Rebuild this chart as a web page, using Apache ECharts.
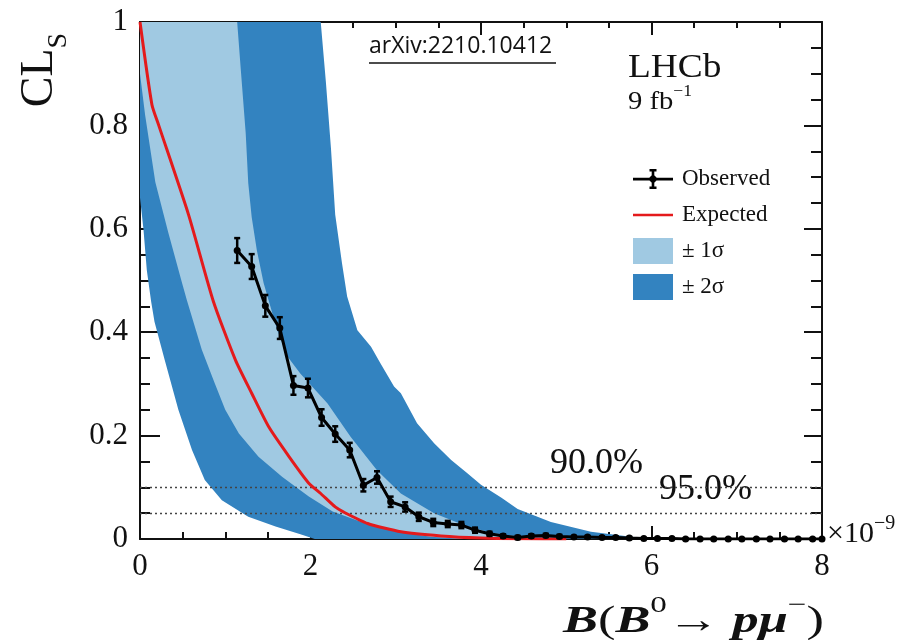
<!DOCTYPE html>
<html><head><meta charset="utf-8">
<script src="https://cdn.jsdelivr.net/npm/echarts@6/dist/echarts.min.js"></script>
<style>html,body{margin:0;padding:0;background:#fff}#c{width:916px;height:640px}</style>
</head><body><div id="c"></div>
<script>
// Observed CLs points (x in units of 1e-9)
const obsX = [1.14,1.31,1.47,1.64,1.80,1.97,2.13,2.29,2.46,2.62,2.78,2.94,3.11,3.27,3.44,3.61,3.77,3.93,4.10,4.26,4.43,4.59,4.76,4.92,5.09,5.25,5.42,5.58,5.74,5.91,6.07,6.24,6.40,6.57,6.73,6.90,7.06,7.23,7.39,7.56,7.72,7.89,8.0];
const obsY = [0.558,0.527,0.451,0.408,0.297,0.292,0.235,0.203,0.172,0.104,0.119,0.072,0.062,0.043,0.032,0.029,0.027,0.017,0.010,0.006,0.003,0.006,0.007,0.005,0.004,0.004,0.003,0.003,0.002,0.001,0.001,0.001,0.0,0.0,0.0,0.0,0.0,0.0,0.0,0.0,0.0,0.0,0.0];
const obsErr = [0.024,0.024,0.021,0.021,0.018,0.018,0.016,0.015,0.014,0.012,0.012,0.010,0.009,0.008,0.007,0.006,0.006,0.005,0.004,0.003,0.003,0.003,0.003,0.003,0.002,0.002,0.002,0.002,0.002,0.001,0.001,0.001,0.001,0.001,0.001,0.001,0.001,0.001,0.001,0.001,0.001,0.001,0.001];
// Expected median
const expX = [0,0.14,0.22,0.57,0.86,1.12,1.31,1.51,1.75,1.98,2.12,2.29,2.39,2.67,3.06,3.53,4.0,4.5,5.0];
const expY = [1.0,0.84,0.80,0.627,0.46,0.346,0.282,0.217,0.159,0.108,0.088,0.062,0.052,0.030,0.014,0.006,0.002,0.0005,0.0];
// +-2 sigma band boundaries
const band2LoX = [0,0,0.04,0.08,0.13,0.17,0.29,0.45,0.61,0.76,0.96,1.27,1.59,1.90,2.05];
const band2LoY = [1.0,0.66,0.60,0.52,0.46,0.42,0.346,0.25,0.172,0.114,0.075,0.043,0.024,0.008,0.0];
const band2HiX = [2.12,2.18,2.24,2.29,2.37,2.43,2.55,2.71,2.82,2.98,3.06,3.25,3.45,3.65,3.84,4.0,4.24,4.43,4.82,5.29,5.69,6.0];
const band2HiY = [1.0,0.885,0.756,0.627,0.533,0.469,0.404,0.372,0.34,0.295,0.282,0.224,0.185,0.153,0.127,0.105,0.08,0.058,0.033,0.014,0.006,0.0];
// +-1 sigma band boundaries
const band1LoX = [0,0,0.06,0.18,0.33,0.49,0.55,0.725,0.88,1.0,1.16,1.39,1.67,1.98,2.26,2.63,3.02,3.41,3.8];
const band1LoY = [1.0,0.9,0.82,0.69,0.594,0.497,0.462,0.366,0.30,0.25,0.204,0.159,0.12,0.082,0.053,0.031,0.014,0.0045,0.0];
const band1HiX = [1.14,1.18,1.24,1.27,1.31,1.37,1.45,1.61,1.73,1.88,2.2,2.47,2.78,3.06,3.45,3.84,4.15,4.6,5.0];
const band1HiY = [1.0,0.913,0.785,0.688,0.623,0.559,0.495,0.404,0.353,0.32,0.262,0.198,0.133,0.088,0.05,0.024,0.011,0.002,0.0];
const clLines = [0.1, 0.05];
const clLabels = ['90.0%', '95.0%'];
const xTicks = {min:0, max:8, step:2};

const SERIF = '"Liberation Serif","Times New Roman","DejaVu Serif",serif';
const LIGHT = '#a0c9e2', DARK = '#3383c0';

function bandPoly(loX, loY, hiX, hiY, color) {
  return function (params, api) {
    const pts = [];
    for (let i = 0; i < loX.length; i++) pts.push(api.coord([loX[i], loY[i]]));
    for (let i = hiX.length - 1; i >= 0; i--) pts.push(api.coord([hiX[i], hiY[i]]));
    return { type: 'polygon', shape: { points: pts }, style: { fill: color } };
  };
}

const CORNERS = 'M0,0h0.1v0.1h-0.1z M39.9,25.9h0.1v0.1h-0.1z ';
const ICON_OBS = 'path://' + CORNERS + 'M0,11.8h40v2.6H0z M18.7,4h2.6v18h-2.6z M16.5,3h7v2.4h-7z M16.5,20.6h7v2.4h-7z M18.5,9.5h3l2,2v3l-2,2h-3l-2,-2v-3z';
const ICON_EXP = 'path://' + CORNERS + 'M0,11.7h40v2.6H0z';

const chart = echarts.init(document.getElementById('c'));
const axisLineStyle = { color: '#111', width: 2 };

chart.setOption({
  animation: false,
  grid: { left: 140, right: 94, top: 22, bottom: 101 },
  xAxis: [
    { type: 'value', min: xTicks.min, max: xTicks.max, interval: xTicks.step, position: 'bottom',
      axisLine: { show: true, onZero: false, lineStyle: axisLineStyle },
      axisTick: { inside: true, length: 13, lineStyle: { color: '#111', width: 2 } },
      minorTick: { show: true, splitNumber: 4, length: 7, lineStyle: { color: '#111', width: 2 } },
      splitLine: { show: false },
      axisLabel: { margin: 12, fontFamily: SERIF, fontSize: 31, color: '#111' } },
    { type: 'value', min: xTicks.min, max: xTicks.max, interval: xTicks.step, position: 'top',
      axisLine: { show: true, onZero: false, lineStyle: axisLineStyle },
      axisTick: { inside: true, length: 13, lineStyle: { color: '#111', width: 2 } },
      minorTick: { show: true, splitNumber: 4, length: 6, lineStyle: { color: '#111', width: 2 } },
      splitLine: { show: false }, axisLabel: { show: false } }
  ],
  yAxis: [
    { type: 'value', min: 0, max: 1, interval: 0.2, position: 'left',
      axisLine: { show: true, onZero: false, lineStyle: axisLineStyle },
      axisTick: { inside: true, length: 20, lineStyle: { color: '#111', width: 2 } },
      minorTick: { show: true, splitNumber: 4, length: 10, lineStyle: { color: '#111', width: 2 } },
      splitLine: { show: false },
      axisLabel: { margin: 12, fontFamily: SERIF, fontSize: 31, color: '#111' } },
    { type: 'value', min: 0, max: 1, interval: 0.2, position: 'right',
      axisLine: { show: true, onZero: false, lineStyle: axisLineStyle },
      axisTick: { inside: true, length: 18, lineStyle: { color: '#111', width: 2 } },
      minorTick: { show: true, splitNumber: 4, length: 11, lineStyle: { color: '#111', width: 2 } },
      splitLine: { show: false }, axisLabel: { show: false } }
  ],
  legend: {
    orient: 'vertical', left: 628, top: 161, itemWidth: 40, itemHeight: 26, itemGap: 10,
    textStyle: { fontFamily: SERIF, fontSize: 23, color: '#111', padding: [0, 0, 0, 4] },
    data: [ { name: 'Observed', icon: ICON_OBS, itemStyle: { color: '#000', borderWidth: 0 } },
            { name: 'Expected', icon: ICON_EXP, itemStyle: { color: '#e41a1c', borderWidth: 0 } },
            { name: '± 1σ', icon: 'rect' }, { name: '± 2σ', icon: 'rect' } ]
  },
  series: [
    { name: '± 2σ', type: 'custom', z: 1, itemStyle: { color: DARK }, data: [[0, 0]],
      renderItem: bandPoly(band2LoX, band2LoY, band2HiX, band2HiY, DARK) },
    { name: '± 1σ', type: 'custom', z: 2, itemStyle: { color: LIGHT }, data: [[0, 0]],
      renderItem: bandPoly(band1LoX, band1LoY, band1HiX, band1HiY, LIGHT) },
    { name: 'Expected', type: 'line', z: 4, showSymbol: false, symbol: 'none', smooth: 0.2,
      lineStyle: { color: '#e41a1c', width: 3 }, itemStyle: { color: '#e41a1c' },
      data: expX.map((x, i) => [x, expY[i]]) },
    { name: 'Observed', type: 'line', z: 5, symbol: 'circle', symbolSize: 7,
      lineStyle: { color: '#000', width: 3 }, itemStyle: { color: '#000' },
      data: obsX.map((x, i) => [x, obsY[i]]),
      markLine: { silent: true, symbol: ['none', 'none'], z: 3, label: { show: false },
        lineStyle: { type: [2, 3], color: '#444', width: 1.3 },
        data: clLines.map(v => ({ yAxis: v })) } },
    { name: 'errors', type: 'custom', z: 6,
      data: obsX.map((x, i) => [x, obsY[i], obsErr[i]]),
      encode: { x: 0, y: 1 },
      renderItem: function (params, api) {
        const x = api.value(0), y = api.value(1), e = api.value(2);
        const hi = api.coord([x, y + e]), lo = api.coord([x, y - e]);
        const st = { stroke: '#000', lineWidth: 2.5 };
        return { type: 'group', children: [
          { type: 'line', shape: { x1: hi[0], y1: hi[1], x2: lo[0], y2: lo[1] }, style: st },
          { type: 'line', shape: { x1: hi[0] - 3, y1: hi[1], x2: hi[0] + 3, y2: hi[1] }, style: st },
          { type: 'line', shape: { x1: lo[0] - 3, y1: lo[1], x2: lo[0] + 3, y2: lo[1] }, style: st }
        ] };
      } }
  ],
  graphic: [
    { type: 'text', x: 369, y: 35, style: { text: 'arXiv:2210.10412', fontFamily: '"Open Sans",sans-serif', fontSize: 23, fill: '#111' } },
    { type: 'line', shape: { x1: 369, y1: 63, x2: 556, y2: 63 }, style: { stroke: '#111', lineWidth: 1.5 } },
    { type: 'text', x: 628, y: 51, scaleX: 1.1, style: { text: 'LHCb', fontFamily: SERIF, fontSize: 34, fill: '#111' } },
    { type: 'text', x: 628, y: 84, scaleX: 1.1, style: { text: '9 fb{sup|−1}', fontFamily: SERIF, fontSize: 26, fill: '#111',
        rich: { sup: { fontFamily: SERIF, fontSize: 16, verticalAlign: 'top', lineHeight: 36 } } } },
    { type: 'text', x: 550, y: 446, style: { text: clLabels[0], fontFamily: SERIF, fontSize: 36, fill: '#111' } },
    { type: 'text', x: 659, y: 472, style: { text: clLabels[1], fontFamily: SERIF, fontSize: 36, fill: '#111' } },
    { type: 'text', x: 827, y: 514, style: { text: '×10{sup|−9}', fontFamily: SERIF, fontSize: 30, fill: '#111',
        rich: { sup: { fontFamily: SERIF, fontSize: 20, verticalAlign: 'top', lineHeight: 40 } } } },
    { type: 'text', x: 824, y: 594, scaleX: 1.38, style: {
        text: '{b|B}{n|(}{b|B}{sup|0}{n|→ }{b|pμ}{sup|−}{n|)}', fill: '#111', align: 'right',
        rich: { b: { fontFamily: SERIF, fontSize: 38, fontWeight: 'bold', fontStyle: 'italic', lineHeight: 44, align: 'right' },
                n: { fontFamily: SERIF, fontSize: 38, lineHeight: 44, align: 'right' },
                sup: { fontFamily: SERIF, fontSize: 24, verticalAlign: 'top', lineHeight: 56, align: 'right' } } } },
    { type: 'text', x: 40, y: 70, rotation: Math.PI / 2, style: {
        text: '{m|CL}{s|S}', align: 'center', verticalAlign: 'middle', fill: '#111',
        rich: { m: { fontFamily: SERIF, fontSize: 46, lineHeight: 50 },
                s: { fontFamily: SERIF, fontSize: 28, verticalAlign: 'bottom', lineHeight: 66 } } } }
  ]
});
</script></body></html>
